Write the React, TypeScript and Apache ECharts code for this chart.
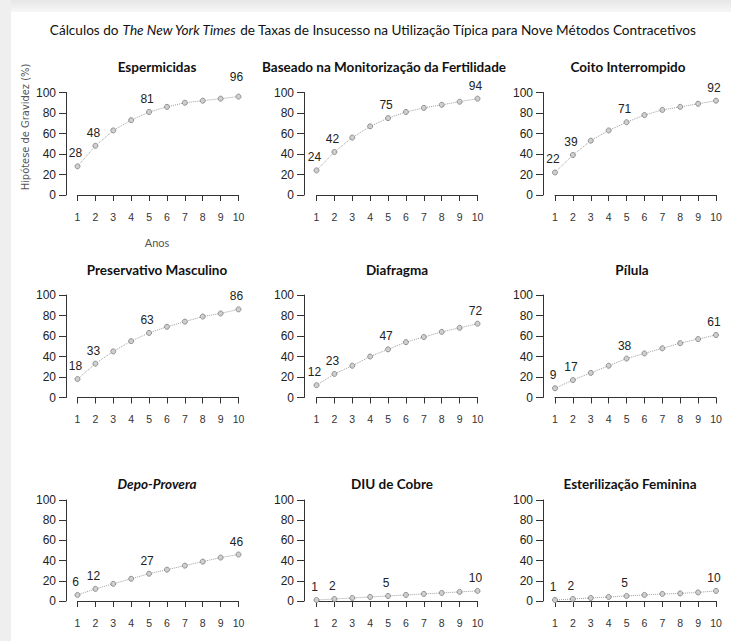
import React, { useEffect, useRef } from "react";
import * as echarts from "echarts";

const years = [1, 2, 3, 4, 5, 6, 7, 8, 9, 10];
const labeledYears = [1, 2, 5, 10];

const titles = [
  "Espermicidas",
  "Baseado na Monitorização da Fertilidade",
  "Coito Interrompido",
  "Preservativo Masculino",
  "Diafragma",
  "Pílula",
  "Depo-Provera",
  "DIU de Cobre",
  "Esterilização Feminina",
];

const espermicidas = [28, 48, 63, 73, 81, 86, 90, 92, 94, 96];
const fertilidade = [24, 42, 56, 67, 75, 81, 85, 88, 91, 94];
const coito = [22, 39, 53, 63, 71, 78, 83, 86, 89, 92];
const preservativo = [18, 33, 45, 55, 63, 69, 74, 79, 82, 86];
const diafragma = [12, 23, 31, 40, 47, 54, 59, 64, 68, 72];
const pilula = [9, 17, 24, 31, 38, 43, 48, 53, 57, 61];
const depoProvera = [6, 12, 17, 22, 27, 31, 35, 39, 43, 46];
const diuCobre = [1, 2, 3, 4, 5, 6, 7, 8, 9, 10];
const esterilizacao = [1, 2, 3, 4, 5, 6, 7, 7.5, 8.5, 10];

const allSeries = [
  espermicidas,
  fertilidade,
  coito,
  preservativo,
  diafragma,
  pilula,
  depoProvera,
  diuCobre,
  esterilizacao,
];

const yTicks = [0, 20, 40, 60, 80, 100];

// layout (pixels)
const cols = [
  { x1: 77.5, x10: 238.5, axis: 66, title: 157 },
  { x1: 316.5, x10: 477.5, axis: 304, title: 384 },
  { x1: 555, x10: 716, axis: 543, title: 628 },
];
const rows = [
  { top: 92.5, bottom: 195, title: 67 },
  { top: 295, bottom: 397.5, title: 270 },
  { top: 500, bottom: 601, title: 484 },
];
const titleCentersRow2 = [157, 397, 632];
const titleCentersRow3 = [157, 392, 630];

const tickFont = "'Liberation Sans', Arial, sans-serif";
const narrowFont = "'Liberation Sans Narrow', 'DejaVu Sans Condensed', 'Liberation Sans', sans-serif";
const titleFont = "Lato, 'Open Sans', sans-serif";

export default function App() {
  const ref = useRef<HTMLDivElement>(null);

  useEffect(() => {
    if (!ref.current) return;
    const chart = echarts.init(ref.current, null, { renderer: "svg" });

    const grids: any[] = [];
    const xAxes: any[] = [];
    const yAxes: any[] = [];
    const series: any[] = [];
    const graphics: any[] = [
      { type: "rect", shape: { x: 0, y: 0, width: 731, height: 641 }, style: { fill: "#ffffff" }, silent: true },
      {
        type: "rect",
        shape: { x: 0, y: 0, width: 731, height: 12 },
        style: {
          fill: new echarts.graphic.LinearGradient(0, 0, 0, 1, [
            { offset: 0, color: "#e6e6e6" },
            { offset: 1, color: "#f7f7f7" },
          ]),
        },
        silent: true,
      },
      { type: "rect", shape: { x: 0, y: 0, width: 11, height: 641 }, style: { fill: "#efefef" }, silent: true },
    ];

    for (let i = 0; i < 9; i++) {
      const c = cols[i % 3];
      const r = rows[Math.floor(i / 3)];
      grids.push({
        left: c.x1,
        top: r.top,
        width: c.x10 - c.x1,
        height: r.bottom - r.top,
        containLabel: false,
        outerBoundsMode: "none",
      });
      xAxes.push({
        gridIndex: i,
        type: "value",
        min: years[0],
        max: years[years.length - 1],
        interval: 1,
        offset: 4,
        axisLine: { show: true, lineStyle: { color: "#333", width: 1 } },
        axisTick: { show: true, length: 6, lineStyle: { color: "#333", width: 1 } },
        axisLabel: { margin: 12, fontSize: 10.5, color: "#333", fontFamily: tickFont },
        splitLine: { show: false },
      });
      yAxes.push({
        gridIndex: i,
        type: "value",
        min: yTicks[0],
        max: yTicks[yTicks.length - 1],
        interval: 20,
        offset: c.x1 - c.axis,
        axisLine: { show: true, lineStyle: { color: "#333", width: 1 } },
        axisTick: { show: true, length: 7, lineStyle: { color: "#333", width: 1 } },
        axisLabel: { margin: 10, fontSize: 12, color: "#222", fontFamily: tickFont },
        splitLine: { show: false },
      });
      const vals = allSeries[i];
      series.push({
        type: "line",
        xAxisIndex: i,
        yAxisIndex: i,
        clip: false,
        symbol: "circle",
        symbolSize: 5,
        itemStyle: { color: "#cfcfcf", borderColor: "#8f8f8f", borderWidth: 1 },
        lineStyle: { color: "#a0a0a0", width: 1, type: "dotted" },
        data: years.map((yr, k) => {
          const item: any = { value: [yr, vals[k]] };
          if (labeledYears.includes(yr)) {
            const extra = i === 0 && yr === 10 ? -7 : 0;
            item.label = {
              show: true,
              position: "top",
              distance: 4,
              offset: [-2, extra],
              formatter: String(Math.round(vals[k])),
              fontSize: 12,
              color: "#222",
              fontFamily: tickFont,
            };
          } else {
            item.label = { show: false };
          }
          return item;
        }),
      });

      const row = Math.floor(i / 3);
      const cx = row === 0 ? c.title : row === 1 ? titleCentersRow2[i % 3] : titleCentersRow3[i % 3];
      graphics.push({
        type: "text",
        x: cx,
        y: r.title,
        style: {
          text: titles[i],
          textAlign: "center",
          textVerticalAlign: "middle",
          fontSize: 13.5,
          fontWeight: "bold",
          fontStyle: i === 6 ? "italic" : "normal",
          fontFamily: titleFont,
          fill: "#111",
        },
      });
    }

    graphics.push({
      type: "text",
      x: 373,
      y: 30,
      style: {
        text: "{a|Cálculos do }{b|The New York Times}{a| de Taxas de Insucesso na Utilização Típica para Nove Métodos Contracetivos}",
        textAlign: "center",
        textVerticalAlign: "middle",
        rich: {
          a: { fontSize: 13.6, fontFamily: titleFont, fill: "#111", color: "#111" },
          b: { fontSize: 13.6, fontFamily: titleFont, fontStyle: "italic", fill: "#111", color: "#111" },
        },
      },
    });
    graphics.push({
      type: "text",
      x: 25,
      y: 127,
      rotation: Math.PI / 2,
      style: {
        text: "Hipótese de Gravidez (%)",
        textAlign: "center",
        textVerticalAlign: "middle",
        fontSize: 11,
        fontFamily: narrowFont,
        fill: "#555",
      },
    });
    graphics.push({
      type: "text",
      x: 157,
      y: 242,
      style: {
        text: "Anos",
        textAlign: "center",
        textVerticalAlign: "middle",
        fontSize: 11,
        fontFamily: titleFont,
        fill: "#555",
      },
    });

    chart.setOption({
      animation: false,
      backgroundColor: "#ffffff",
      graphic: { elements: graphics },
      grid: grids,
      xAxis: xAxes,
      yAxis: yAxes,
      series,
    });

    return () => chart.dispose();
  }, []);

  return (
    <div
      ref={ref}
      style={{ position: "absolute", left: 0, top: 0, width: 731, height: 641 }}
    />
  );
}
